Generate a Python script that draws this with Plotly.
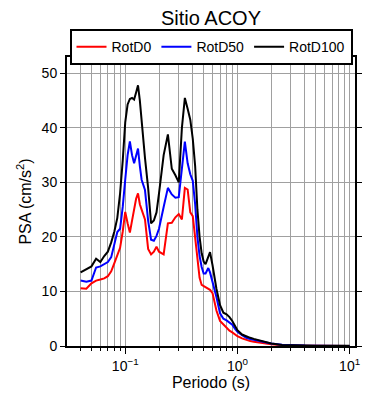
import plotly.graph_objects as go

periods = [0.04, 0.045, 0.05, 0.055, 0.06, 0.065, 0.07, 0.075, 0.08, 0.085, 0.09, 0.095,
           0.1, 0.105, 0.11, 0.115, 0.12, 0.125, 0.13, 0.135,
           0.14, 0.15, 0.16, 0.17, 0.18, 0.19, 0.2,
           0.22, 0.24, 0.26, 0.28, 0.3, 0.32, 0.34, 0.36, 0.38, 0.4, 0.42, 0.44, 0.46, 0.48, 0.5,
           0.52, 0.55, 0.57, 0.6, 0.65, 0.7, 0.75, 0.8, 0.85, 0.9, 0.95,
           1.0, 1.1, 1.2, 1.3, 1.4, 1.5, 1.6, 1.8, 2.0,
           2.5, 3.0, 4.0, 5.0, 6.0, 7.5, 10.0]

rotd0 = [10.6, 10.5, 11.5, 12.0, 12.2, 12.4, 12.8, 13.7, 15.2, 16.8, 18.0, 21.0,
         24.6, 22.5, 20.8, 23.0, 25.5, 27.0, 28.0, 26.0,
         25.0, 23.2, 17.8, 16.8, 17.3, 18.2, 17.3,
         16.8, 22.5, 22.6, 23.6, 24.2, 23.2, 29.0, 28.7, 24.5, 23.8, 20.0, 16.0, 12.5, 11.2, 11.0,
         10.8, 10.6, 10.3, 9.7, 6.5, 4.6, 4.0, 3.4, 2.8, 2.5, 2.1,
         1.8, 1.4, 1.1, 0.9, 0.8, 0.7, 0.6, 0.45, 0.33,
         0.15, 0.08, 0.05, 0.03, 0.03, 0.02, 0.02]

rotd50 = [12.0, 11.8, 12.0, 14.4, 14.6, 15.0, 15.4, 16.3, 19.0, 20.9, 21.5, 25.5,
          30.5, 35.0, 37.5, 35.0, 33.5, 35.0, 36.2, 33.0,
          30.5, 28.6, 23.0, 19.5, 19.3, 20.2, 21.5,
          25.5, 29.0, 27.8, 27.2, 27.3, 32.5, 37.5, 33.5, 31.5, 30.3, 26.0, 20.0, 16.5, 14.5, 13.3,
          13.3, 14.3, 13.5, 11.8, 9.0, 6.0, 5.0, 4.7, 4.3, 3.9, 3.2,
          2.6, 2.0, 1.5, 1.3, 1.15, 1.05, 0.9, 0.65, 0.45,
          0.22, 0.12, 0.07, 0.05, 0.04, 0.03, 0.02]

rotd100 = [13.5, 14.0, 14.6, 16.0, 15.4, 16.5, 17.3, 19.0, 21.0, 23.5, 28.0, 34.0,
           41.0, 44.3, 45.3, 45.5, 45.2, 46.5, 47.8, 45.0,
           41.0, 34.5, 29.0, 22.5, 23.0, 24.5, 28.0,
           35.0, 38.8, 32.5, 31.3, 30.0, 40.0, 45.5, 43.5, 41.5, 38.0, 33.0, 25.0, 20.0, 17.0, 15.5,
           15.0, 16.5, 17.2, 14.8, 10.5, 7.5, 6.1, 5.8, 5.3, 4.6, 3.7,
           2.9, 2.1, 1.75, 1.5, 1.3, 1.15, 0.95, 0.75, 0.45,
           0.2, 0.12, 0.08, 0.06, 0.05, 0.04, 0.03]

x_tickvals = [0.1, 1, 10]
x_ticktext = ["10<sup>−1</sup>", "10<sup>0</sup>", "10<sup>1</sup>"]

series = [("RotD0", rotd0, "#ff0000"), ("RotD50", rotd50, "#0000ff"), ("RotD100", rotd100, "#000000")]

FONT = "Liberation Sans, Arial, Helvetica, sans-serif"

# page body has an 8px default margin; figure is sized/offset to compensate
W, H = 382, 392

fig = go.Figure()
for name, vals, col in series:
    fig.add_trace(go.Scatter(x=periods, y=vals, mode="lines", name=name,
                             line=dict(color=col, width=2)))

fig.update_layout(
    width=W, height=H,
    margin=dict(l=59, r=35, t=49, b=54, autoexpand=False),
    paper_bgcolor="white", plot_bgcolor="white",
    font=dict(family=FONT, size=14, color="black"),
    title=dict(text="Sitio ACOY", x=0.5, xref="paper", xanchor="center",
               y=1, yanchor="top", pad=dict(t=3, b=0),
               font=dict(size=20, color="black")),
    showlegend=True,
    legend=dict(orientation="h", x=0.5, xanchor="center", y=1.096, yanchor="top",
                bordercolor="black", borderwidth=2, bgcolor="white",
                font=dict(size=14), itemwidth=30, tracegroupgap=0),
)

fig.update_xaxes(
    type="log", range=[-1.519, 1.048], automargin=False,
    tickmode="array", tickvals=x_tickvals, ticktext=x_ticktext,
    showline=True, linecolor="black", linewidth=2, mirror="ticks",
    ticks="outside", ticklen=6, tickwidth=1, tickcolor="black",
    showgrid=True, gridcolor="#a0a0a0", gridwidth=1,
    minor=dict(dtick="D1", ticks="outside", ticklen=3, tickcolor="black",
               showgrid=True, gridcolor="#a0a0a0", gridwidth=1),
    tickfont=dict(size=14),
    title=dict(text="Periodo (s)", font=dict(size=16), standoff=4),
    zeroline=False,
)
fig.update_yaxes(
    range=[0, 53], dtick=10, tick0=0, automargin=False,
    showline=True, linecolor="black", linewidth=2, mirror="ticks",
    ticks="outside", ticklen=5, tickwidth=1, tickcolor="black",
    showgrid=True, gridcolor="#a0a0a0", gridwidth=1,
    tickfont=dict(size=14),
    title=dict(text="PSA (cm/s<sup>2</sup>)", font=dict(size=16), standoff=6),
    zeroline=False,
)

fig.write_html("out.html")
